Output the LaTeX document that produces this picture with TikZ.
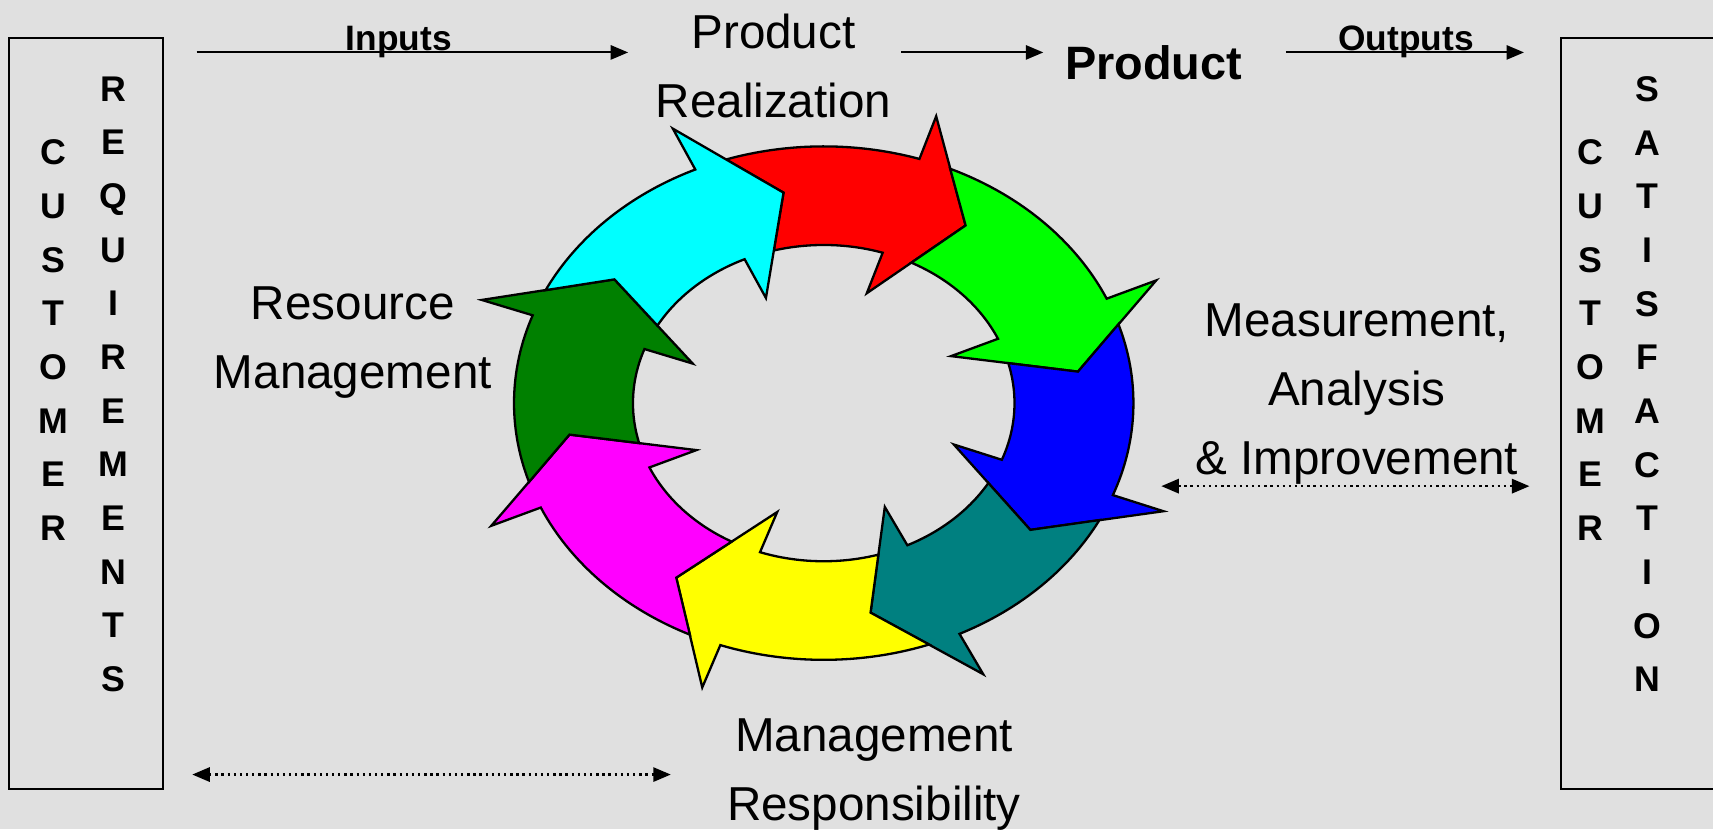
\documentclass[tikz,border=0pt]{standalone}
\usepackage{fontspec}
\setmainfont{Liberation Sans}
\usetikzlibrary{arrows.meta}
\tikzset {>={Triangle[length=1.6mm,width=1.3mm]}}
\definecolor{bggray}{RGB}{224,224,224}
\definecolor{leafgreen}{RGB}{0,128,0}
\definecolor{ringred}{RGB}{255,0,0}
\definecolor{ringlime}{RGB}{0,255,0}
\definecolor{ringblue}{RGB}{0,0,255}
\definecolor{ringteal}{RGB}{0,128,128}
\definecolor{ringyellow}{RGB}{255,255,0}
\definecolor{ringmagenta}{RGB}{255,0,255}
\definecolor{ringcyan}{RGB}{0,255,255}

\begin{document}
\begin{tikzpicture}[x=0.1mm,y=-0.1mm,
  txt/.style={font=\fontsize{12.4}{18}\selectfont,align=center,inner sep=0pt},
  boldtxt/.style={font=\bfseries\fontsize{12.2}{14}\selectfont,inner sep=0pt},
  tag/.style={font=\bfseries\fontsize{9.2}{11}\selectfont,inner sep=0pt},
  letters/.style={font=\bfseries\fontsize{9.3}{13.97}\selectfont,align=center,inner sep=0pt},
  flow/.style={->,line width=0.55pt},
  link/.style={<->,line width=0.6pt,densely dotted}]
\path[use as bounding box,fill=bggray] (0,0) rectangle (1568,759);

% customer boxes
\draw[line width=0.5pt] (8,35) rectangle (149,722);
\draw[line width=0.5pt] (1600,35) -| (1429,722) -- (1600,722);
\node[letters,anchor=north] (custL) at (49,127.5) {C\\U\\S\\T\\O\\M\\E\\R};
\node[letters,anchor=north] (req) at (104,69.5) {R\\E\\Q\\U\\I\\R\\E\\M\\E\\N\\T\\S};
\node[letters,anchor=north] (custR) at (1456,127.5) {C\\U\\S\\T\\O\\M\\E\\R};
\node[letters,anchor=north] (sat) at (1508,69.5) {S\\A\\T\\I\\S\\F\\A\\C\\T\\I\\O\\N};

% labels
\node[txt,anchor=north] (prodreal) at (708,12) {Product\\Realization};
\node[boldtxt,anchor=base] (product) at (1056,73) {Product};
\node[tag,anchor=base] (inputs) at (365,46) {Inputs};
\node[tag,anchor=base] (outputs) at (1287,46) {Outputs};
\node[txt,anchor=north] (resmgmt) at (323,262) {Resource\\Management};
\node[txt,anchor=north] (measure) at (1242,277) {Measurement,\\Analysis\\\& Improvement};
\node[txt,anchor=north] (mgmtresp) at (800,657) {Management\\Responsibility};

% top flow
\coordinate (inA) at (180,48);
\coordinate (inB) at (575,48);
\coordinate (prA) at (825,48);
\coordinate (prB) at (955,48);
\coordinate (outA) at (1177,48);
\coordinate (outB) at (1395,48);
\draw[flow] (inA) -- (inB);
\draw[flow] (prA) -- (prB);
\draw[flow] (outA) -- (outB);

% dotted links
\coordinate (maiA) at (1063,445);
\coordinate (maiB) at (1400,445);
\coordinate (mrA) at (176,709);
\coordinate (mrB) at (614,709);
\draw[link] (maiA) -- (maiB);
\draw[link] (mrA) -- (mrB);

% ring of arrows: colour / head angle / head angle of the one before
\begin{scope}[shift={(754,369)},x=28.35mm,y=23.5mm,line width=0.6pt]
\foreach \col/\a/\p in {ringred/72/114.5, ringlime/24/72, ringblue/-21/24,
    ringteal/-64/-21, ringyellow/-109.5/-64, ringmagenta/-156/-109.5,
    leafgreen/-200/-156, ringcyan/-245.5/-200}
  \filldraw[fill=\col,line join=miter]
    (\p-6.1:1) arc[start angle=\p-6.1,end angle=\a,radius=1]
    -- (\a:1.175) -- (\a-15.5:0.83) -- (\a:0.45) -- (\a:0.616)
    arc[start angle=\a,end angle=\p-9.35,radius=0.616]
    -- (\p-15.5:0.83) -- cycle;
\end{scope}

\end{tikzpicture}
\end{document}
